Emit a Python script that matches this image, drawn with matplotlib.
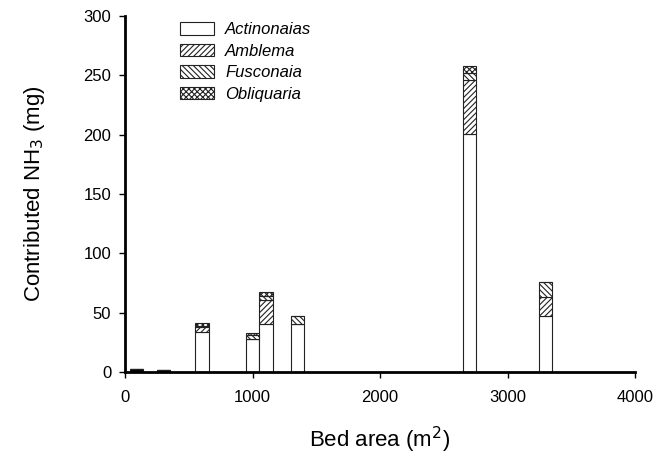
import numpy as np
import matplotlib.pyplot as plt

plt.rcParams['font.family'] = ['Liberation Sans', 'DejaVu Sans']
plt.rcParams['hatch.linewidth'] = 0.8

# bed area (m2) for each bed
bed_area = [90, 303, 604, 1000, 1105, 1354, 2704, 3300]

# contributed NH3 (mg) by genus
actinonaias = [2.5, 2.0, 33.5, 27.5, 40.4, 40.2, 201.0, 47.5]
amblema = [0, 0, 4.5, 0, 20.3, 0, 45.0, 15.5]
fusconaia = [0, 0, 0.5, 3.5, 3.7, 7.0, 5.7, 12.8]
obliquaria = [0, 0, 2.5, 1.8, 2.8, 0, 6.4, 0]

species = ['Actinonaias', 'Amblema', 'Fusconaia', 'Obliquaria']
series = [actinonaias, amblema, fusconaia, obliquaria]
hatches = ['', '//////', '\\\\\\\\\\\\', 'xxxxxx']

fig = plt.figure(figsize=(6.7, 4.59), dpi=100)
ax = fig.add_axes([0.1866, 0.1895, 0.7612, 0.7755])

bottom = np.zeros(len(bed_area))
for name, vals, h in zip(species, series, hatches):
    vals = np.array(vals)
    # the tiny beds print as solid black strips
    faces = ['black' if 0 < v < 5 and name == 'Actinonaias' else 'white' for v in vals]
    ax.bar(bed_area, vals, width=105, bottom=bottom, color=faces,
           edgecolor='#222222', linewidth=0.8, hatch=h, label=name)
    bottom += vals

ax.set_xlim(0, 4000)
ax.set_ylim(0, 300)
ax.set_xticks([0, 1000, 2000, 3000, 4000])
ax.set_yticks([0, 50, 100, 150, 200, 250, 300])
ax.tick_params(labelsize=12, direction='out', length=4, width=1)
ax.tick_params(axis='x', pad=9)
ax.tick_params(axis='y', pad=6)
ax.spines['top'].set_visible(False)
ax.spines['right'].set_visible(False)
ax.spines['left'].set_linewidth(2)
ax.spines['bottom'].set_linewidth(2)

ax.set_xlabel('Bed area (m$^{2}$)', fontsize=16, labelpad=14)
ax.set_ylabel('Contributed NH$_3$ (mg)', fontsize=16, labelpad=26)

leg = ax.legend(loc='upper left', bbox_to_anchor=(0.079, 1.025), frameon=False,
                prop={'style': 'italic', 'size': 12}, handlelength=2.0,
                handleheight=0.8, labelspacing=0.38, handletextpad=0.7)
leg.legend_handles[0].set_facecolor('white')

plt.savefig('out.png', dpi=100)
